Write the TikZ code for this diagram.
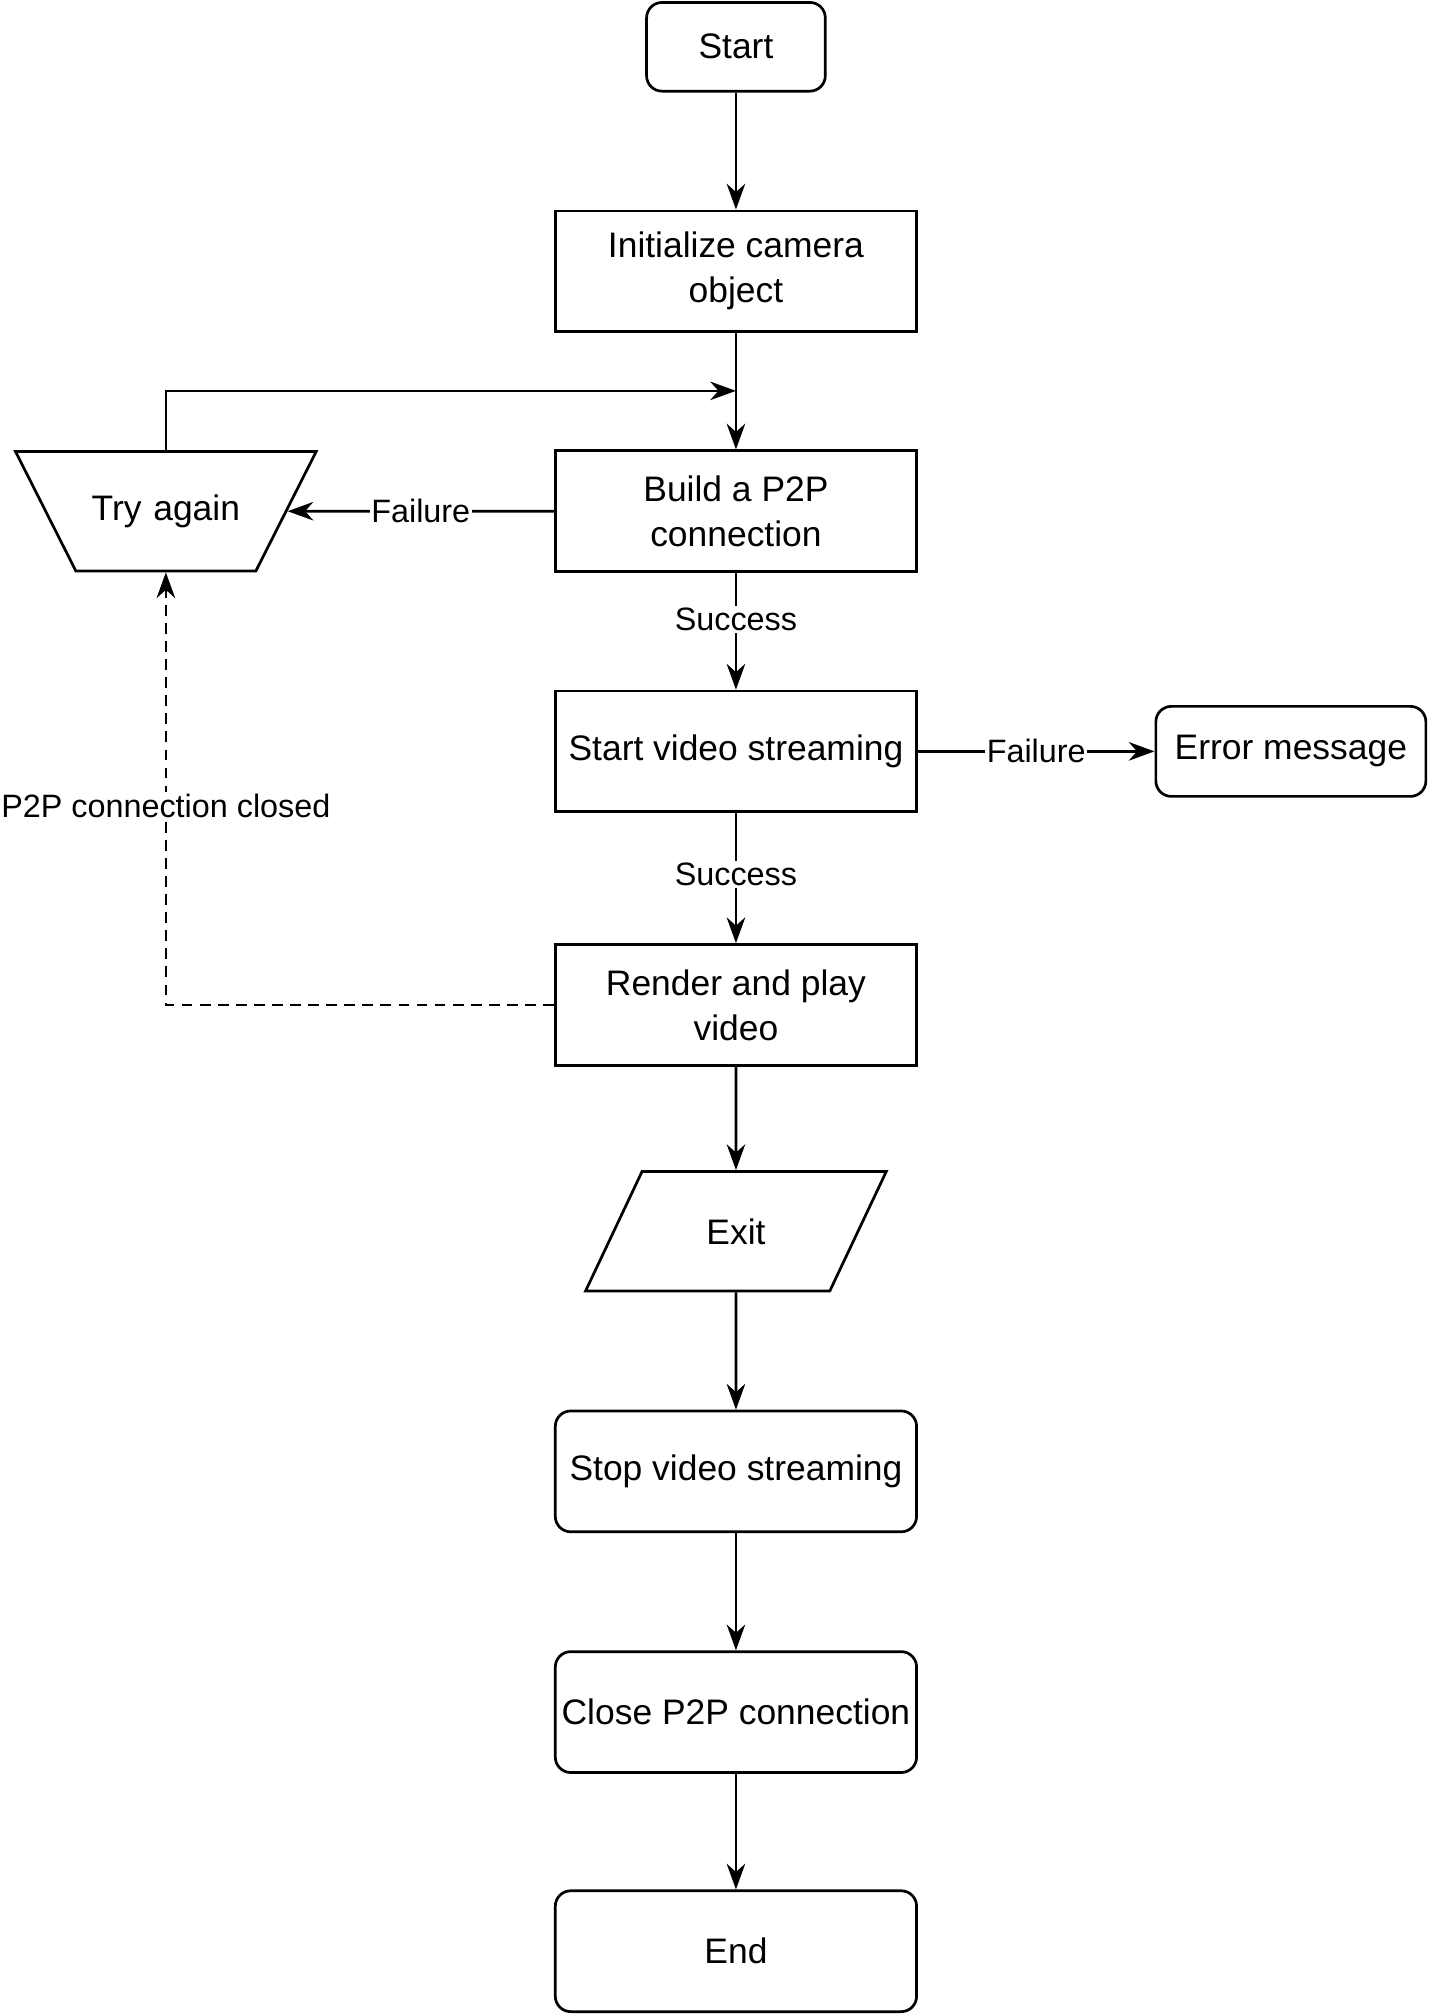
\documentclass[tikz,border=0pt]{standalone}
\usepackage{fontspec}
\setmainfont{Liberation Sans}
\usetikzlibrary{arrows.meta,shapes.geometric}
\tikzset{
  card/.style={draw=black,fill=white,line width=1.5pt,align=center,
               minimum width=7.025cm,minimum height=2.35cm,inner sep=2pt,
               font=\fontsize{19.6}{24.9}\selectfont},
  termcard/.style={card,rounded corners=0.3cm},
  retrycard/.style={card,trapezium,trapezium left angle=116.8,
                    trapezium right angle=116.8,minimum width=0pt,
                    minimum height=0pt,text width=2.9cm,text height=0.5cm,
                    text depth=0.15cm,inner xsep=0.3cm,inner ysep=0.8375cm},
  exitcard/.style={card,trapezium,trapezium left angle=64.7,
                   trapezium right angle=115.3,minimum width=0pt,
                   minimum height=0pt,text width=3cm,text height=0.5cm,
                   text depth=0cm,inner xsep=0.325cm,inner ysep=0.9125cm},
  edgelbl/.style={fill=white,inner sep=1pt,font=\fontsize{17.9}{21}\selectfont},
  blackarr/.style={-{Stealth[length=5mm,width=3.6mm,inset=1.6mm]},
                   line width=1.5pt,draw=black},
  dashedarr/.style={blackarr,dash pattern=on 6pt off 4pt}
}
\begin{document}
\begin{tikzpicture}[x=1cm,y=1cm]
    \path[use as bounding box,fill=white] (0,0) rectangle (27.825,-39.2);
    \node[termcard,minimum width=3.475cm,minimum height=1.725cm] (start)
      at (14.31,-0.91) {Start};
    \node[card] (init) at (14.31,-5.275) {Initialize camera\\object};
    \node[card] (build) at (14.31,-9.94) {Build a P2P\\connection};
    \node[retrycard] (retry) at (3.225,-9.94) {Try again};
    \node[card] (stream) at (14.31,-14.61) {Start video streaming};
    \node[termcard,minimum width=5.25cm,minimum height=1.75cm] (error)
      at (25.1,-14.61) {Error message};
    \node[card] (render) at (14.31,-19.54) {Render and play\\video};
    \node[exitcard] (exit) at (14.31,-23.94) {Exit};
    \node[termcard] (stop) at (14.31,-28.61) {Stop video streaming};
    \node[termcard] (close) at (14.31,-33.29) {Close P2P connection};
    \node[termcard] (finish) at (14.31,-37.94) {End};
    \coordinate (merge) at (14.31,-7.6);

    \draw[blackarr] (start) -- (init);
    \draw[blackarr] (init) -- (build);
    \draw[blackarr] (retry.north) |- (merge);
    \draw[blackarr] (build) -- node[edgelbl]{Failure} (retry);
    \draw[blackarr] (build) -- node[edgelbl,pos=0.4]{Success} (stream);
    \draw[blackarr] (stream) -- node[edgelbl]{Failure} (error);
    \draw[blackarr] (stream) -- node[edgelbl,pos=0.47]{Success} (render);
    \draw[dashedarr] (render.west) -| node[edgelbl,pos=0.73]
      {P2P connection closed} (retry.south);
    \draw[blackarr] (render) -- (exit);
    \draw[blackarr] (exit) -- (stop);
    \draw[blackarr] (stop) -- (close);
    \draw[blackarr] (close) -- (finish);
  \end{tikzpicture}
\end{document}
